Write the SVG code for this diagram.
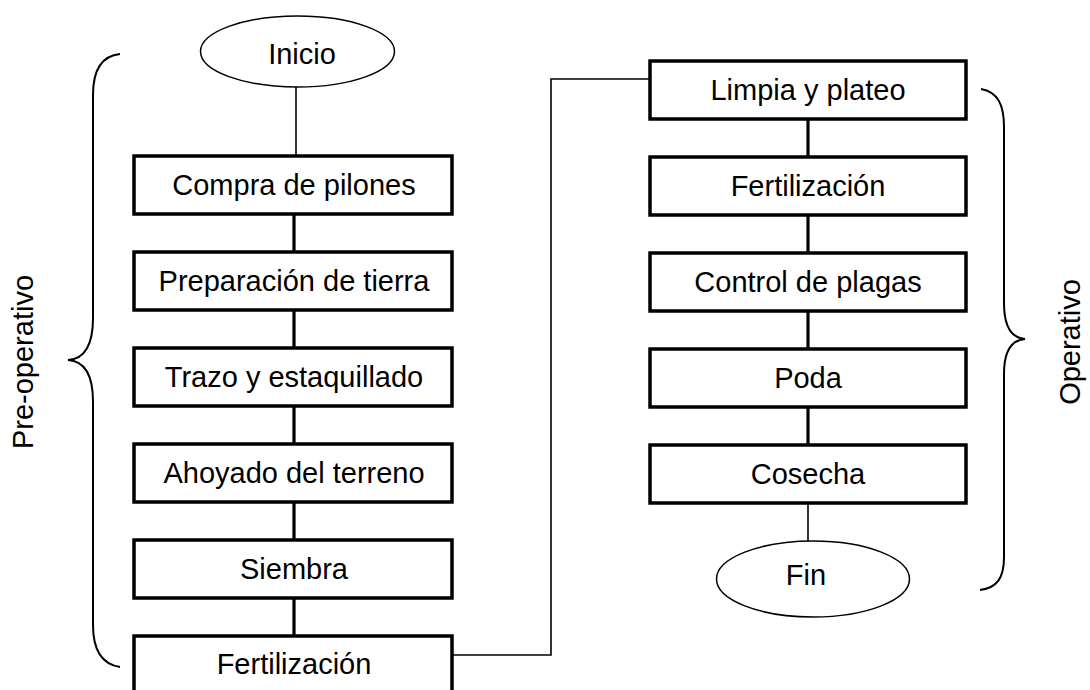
<svg xmlns="http://www.w3.org/2000/svg" width="1090" height="690" viewBox="0 0 1090 690">
<style>
.box{fill:#fff;stroke:#000;stroke-width:3.5}
.term{fill:#fff;stroke:#000;stroke-width:1.5}
.lbl{font-family:"Liberation Sans",Arial,sans-serif;font-size:29px;fill:#000;text-anchor:middle}
.thick{fill:none;stroke:#000;stroke-width:3.2}
.thin{fill:none;stroke:#000;stroke-width:1.6}
.brace{fill:none;stroke:#000;stroke-width:2}
</style>
<rect width="1090" height="690" fill="#fff"/>
<g id="connectors">
<line class="thin" x1="296" y1="87" x2="296" y2="156"/>
<line class="thick" x1="294" y1="214" x2="294" y2="252"/>
<line class="thick" x1="294" y1="310" x2="294" y2="348"/>
<line class="thick" x1="294" y1="406" x2="294" y2="444"/>
<line class="thick" x1="294" y1="502" x2="294" y2="540"/>
<line class="thick" x1="294" y1="598" x2="294" y2="636"/>
<path class="thin" d="M452,655 H551 V79 H650"/>
<line class="thick" x1="808" y1="119" x2="808" y2="157"/>
<line class="thick" x1="808" y1="215" x2="808" y2="253"/>
<line class="thick" x1="808" y1="311" x2="808" y2="349"/>
<line class="thick" x1="808" y1="407" x2="808" y2="445"/>
<line class="thin" x1="808" y1="503" x2="808" y2="541"/>
</g>
<g id="inicio"><ellipse class="term" cx="297.5" cy="51.5" rx="97" ry="35.5"/><text class="lbl" x="302" y="64">Inicio</text></g>
<g id="compra"><rect class="box" x="134" y="156" width="318" height="58"/><text class="lbl" x="294" y="195">Compra de pilones</text></g>
<g id="preparacion"><rect class="box" x="134" y="252" width="318" height="58"/><text class="lbl" x="294" y="291">Preparación de tierra</text></g>
<g id="trazo"><rect class="box" x="134" y="348" width="318" height="58"/><text class="lbl" x="294" y="387">Trazo y estaquillado</text></g>
<g id="ahoyado"><rect class="box" x="134" y="444" width="318" height="58"/><text class="lbl" x="294" y="483">Ahoyado del terreno</text></g>
<g id="siembra"><rect class="box" x="134" y="540" width="318" height="58"/><text class="lbl" x="294" y="579">Siembra</text></g>
<g id="fertilizacion1"><rect class="box" x="134" y="636" width="318" height="62"/><text class="lbl" x="294" y="674">Fertilización</text></g>
<g id="limpia"><rect class="box" x="650" y="61" width="316" height="58"/><text class="lbl" x="808" y="100">Limpia y plateo</text></g>
<g id="fertilizacion2"><rect class="box" x="650" y="157" width="316" height="58"/><text class="lbl" x="808" y="196">Fertilización</text></g>
<g id="control"><rect class="box" x="650" y="253" width="316" height="58"/><text class="lbl" x="808" y="292">Control de plagas</text></g>
<g id="poda"><rect class="box" x="650" y="349" width="316" height="58"/><text class="lbl" x="808" y="388">Poda</text></g>
<g id="cosecha"><rect class="box" x="650" y="445" width="316" height="58"/><text class="lbl" x="808" y="484">Cosecha</text></g>
<g id="fin"><ellipse class="term" cx="813" cy="579" rx="96.5" ry="38"/><text class="lbl" x="806" y="585">Fin</text></g>
<g id="preoperativo">
<path class="brace" d="M120,54 C100,56 93,72 93,95 L93,318 C93,345 85,359 68,360 C85,361 93,375 93,402 L93,625 C93,648 100,664 120,667"/>
<text class="lbl" transform="translate(33,362) rotate(-90)">Pre-operativo</text>
</g>
<g id="operativo">
<path class="brace" d="M981,89 C998,92 1004,105 1004,127 L1004,303 C1004,328 1012,338 1025,339 C1012,340 1004,350 1004,374 L1004,557 C1004,578 997,588 980,590"/>
<text class="lbl" transform="translate(1080,342) rotate(-90)">Operativo</text>
</g>
</svg>
